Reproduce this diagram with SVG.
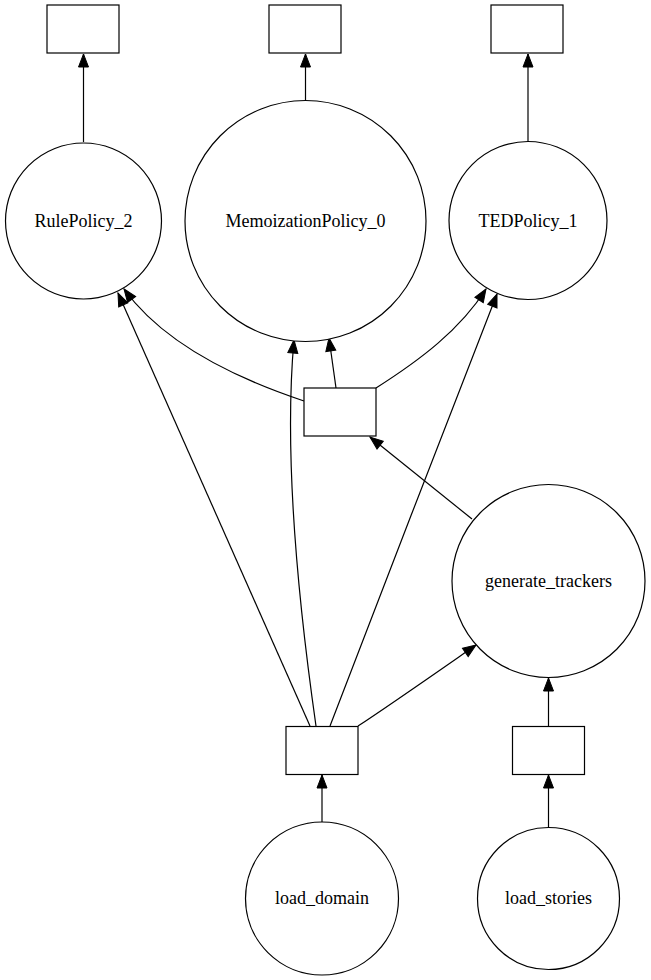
<svg xmlns="http://www.w3.org/2000/svg" width="651" height="980" viewBox="0 0 651 980">
<style>
.n{fill:#fff;stroke:#000;stroke-width:1.2}
.e{fill:none;stroke:#000;stroke-width:1.2;marker-end:url(#a)}
.t{font-family:'Liberation Serif',serif;font-size:18px;text-anchor:middle;fill:#000}
</style>
<defs>
<marker id="a" markerUnits="userSpaceOnUse" markerWidth="14" markerHeight="11" refX="13" refY="5" orient="auto" viewBox="0 0 14 11" overflow="visible">
<path d="M0,0 L13,5 L0,10 z" fill="#000" stroke="#000" stroke-width="1"/>
</marker>
</defs>
<rect width="651" height="980" fill="#fff"/>
<g id="connectors">
<path class="e" d="M83.5,142 L83.5,54"/>
<path class="e" d="M305.5,100 L305.5,54"/>
<path class="e" d="M528,141 L528,54"/>
<path class="e" d="M304,401 C250,383 168,350 124,289"/>
<path class="e" d="M336,388 L329,338"/>
<path class="e" d="M376,388 C420,360 460,330 486,289"/>
<path class="e" d="M310,726 L118,293"/>
<path class="e" d="M316,726 C298,600 284,450 294,340"/>
<path class="e" d="M330,726 C370,620 460,390 497,294"/>
<path class="e" d="M358,726 C390,705 440,670 476,645"/>
<path class="e" d="M472,519 L370,437"/>
<path class="e" d="M548.5,726 L548.5,678"/>
<path class="e" d="M322,822 L322,775"/>
<path class="e" d="M548.5,827 L548.5,775"/>
</g>
<g id="box_rule"><rect class="n" x="47" y="5" width="72" height="48"/></g>
<g id="box_memo"><rect class="n" x="269" y="5" width="72" height="48"/></g>
<g id="box_ted"><rect class="n" x="491" y="5" width="72" height="48"/></g>
<g id="RulePolicy_2"><circle class="n" cx="83.5" cy="221" r="78"/><text class="t" font-family="Liberation Serif, serif" x="83.5" y="227">RulePolicy_2</text></g>
<g id="MemoizationPolicy_0"><circle class="n" cx="305.5" cy="221" r="120.5"/><text class="t" font-family="Liberation Serif, serif" x="305.5" y="227">MemoizationPolicy_0</text></g>
<g id="TEDPolicy_1"><circle class="n" cx="528" cy="220.5" r="79"/><text class="t" font-family="Liberation Serif, serif" x="528" y="227">TEDPolicy_1</text></g>
<g id="box_mid"><rect class="n" x="304" y="388" width="72" height="48"/></g>
<g id="generate_trackers"><circle class="n" cx="548.5" cy="581" r="96.5"/><text class="t" font-family="Liberation Serif, serif" x="548.5" y="587">generate_trackers</text></g>
<g id="box_domain"><rect class="n" x="286" y="726.5" width="72" height="48"/></g>
<g id="box_stories"><rect class="n" x="512.5" y="726.5" width="72" height="48"/></g>
<g id="load_domain"><circle class="n" cx="322" cy="898.5" r="76.5"/><text class="t" font-family="Liberation Serif, serif" x="322" y="904">load_domain</text></g>
<g id="load_stories"><circle class="n" cx="548.5" cy="898.5" r="71"/><text class="t" font-family="Liberation Serif, serif" x="548.5" y="904">load_stories</text></g>
</svg>
